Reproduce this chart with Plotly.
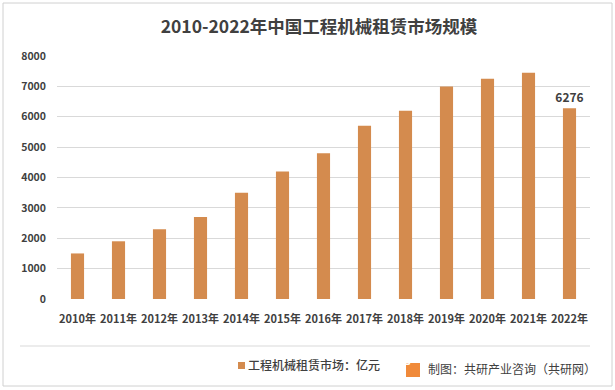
import plotly.graph_objects as go

years = ["2010年", "2011年", "2012年", "2013年", "2014年", "2015年", "2016年",
         "2017年", "2018年", "2019年", "2020年", "2021年", "2022年"]
values = [1500, 1900, 2300, 2700, 3500, 4200, 4800, 5700, 6200, 7000, 7250, 7450, 6276]
labels = [""] * 12 + ["<b>6276</b>"]
y_ticks = [0, 1000, 2000, 3000, 4000, 5000, 6000, 7000, 8000]
series_name = "工程机械租赁市场：亿元"
source_text = "制图：共研产业咨询（共研网）"

W, H = 615, 390
L, R, T, B = 57, 25, 56, 91
pw, ph = W - L - R, H - T - B

def px(x):
    return (x - L) / pw

def py(y):
    return (H - B - y) / ph

FONT = "Noto Sans CJK SC"
COLOR = "#D48B4E"
TXT = "#404040"

fig = go.Figure()
fig.add_trace(go.Bar(
    x=years, y=values, name=series_name,
    marker=dict(color=COLOR, line=dict(width=0)),
    text=labels, textposition="outside", cliponaxis=False, constraintext="none",
    textfont=dict(family=FONT, size=12, color=TXT),
))

fig.update_layout(
    width=W, height=H,
    margin=dict(l=L, r=R, t=T, b=B, autoexpand=False),
    paper_bgcolor="white", plot_bgcolor="white",
    bargap=0.68,
    showlegend=False,
    font=dict(family=FONT, color=TXT),
    title=dict(text="<b>2010-2022年中国工程机械租赁市场规模</b>",
               x=319 / W, xanchor="center", y=1 - 27 / H, yanchor="middle",
               font=dict(family=FONT, size=17.5, color=TXT)),
    xaxis=dict(showgrid=False, showline=False, ticks="", automargin=False,
               ticklabelstandoff=12,
               tickfont=dict(family=FONT, size=11, color=TXT, weight=600)),
    yaxis=dict(range=[0, 8000], tickvals=y_ticks, showgrid=True, automargin=False,
               gridcolor="#D9D9D9", gridwidth=1, zeroline=False,
               showline=False, ticks="", ticklabelstandoff=10,
               tickfont=dict(family=FONT, size=10.5, color=TXT, weight=600)),
)

shapes = [
    dict(type="rect", xref="paper", yref="paper",
         x0=px(3), x1=px(612), y0=py(386), y1=py(3),
         line=dict(color="#D0D0D0", width=1), layer="below"),
    dict(type="line", xref="paper", yref="paper",
         x0=px(20), x1=px(590), y0=py(346), y1=py(346),
         line=dict(color="#D9D9D9", width=1)),
    dict(type="rect", xref="paper", yref="paper",
         x0=px(238), x1=px(245), y0=py(369), y1=py(362),
         fillcolor=COLOR, line=dict(width=0)),
    dict(type="rect", xref="paper", yref="paper",
         x0=px(406), x1=px(420), y0=py(377), y1=py(363),
         fillcolor="#F08A3A", line=dict(width=0)),
]
fig.update_layout(shapes=shapes)

fig.add_annotation(xref="paper", yref="paper", x=px(246), y=py(365), xanchor="left",
                   yanchor="middle", text=series_name, showarrow=False,
                   font=dict(family=FONT, size=12, color=TXT, weight=500))
fig.add_annotation(xref="paper", yref="paper", x=px(413), y=py(370),
                   text="<b>G</b>", showarrow=False,
                   font=dict(family=FONT, size=11, color="white"))
fig.add_annotation(xref="paper", yref="paper", x=px(426), y=py(368), xanchor="left",
                   yanchor="middle", text=source_text, showarrow=False,
                   font=dict(family=FONT, size=12, color=TXT))

fig.write_html("out.html", config={"displayModeBar": False},
               post_script="document.body.style.margin='0';document.body.style.overflow='hidden';")
